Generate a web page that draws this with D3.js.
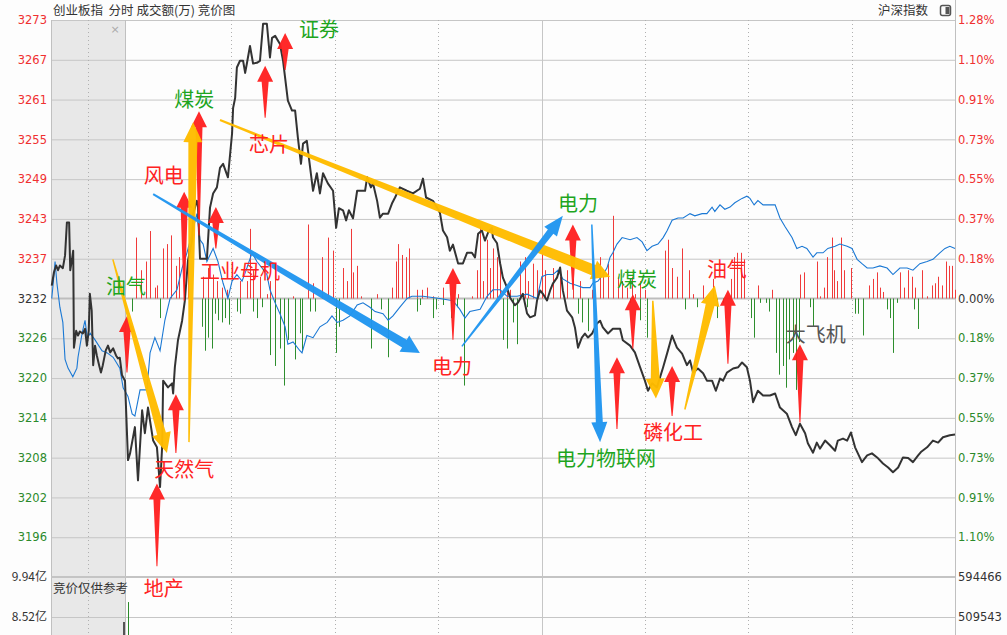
<!DOCTYPE html>
<html><head><meta charset="utf-8">
<script src="https://cdn.jsdelivr.net/npm/d3@7"></script>
<style>
html,body{margin:0;padding:0;background:#fdfdfd;overflow:hidden}
svg{display:block}
</style></head><body>
<svg id="c" width="1007" height="635"></svg>
<script>
// ---------------- data ----------------
const basePrice = 3231.7;
const pctStep = 0.18282;
const tickSteps = [7,6,5,4,3,2,1,0,-1,-2,-3,-4,-5,-6];
const leftTickLabels = ["3273","3267","3261","3255","3249","3243","3237","3232","3226","3220","3214","3208","3202","3196"];
const rightTickLabels = ["1.28%","1.10%","0.91%","0.73%","0.55%","0.37%","0.18%","0.00%","0.18%","0.37%","0.55%","0.73%","0.91%","1.10%"];
const volTickValues = [9.94, 8.52];
const volTickLeft = ["9.94亿","8.52亿"];
const volTickRight = ["594466","509543"];
const timeGrid = [30,60,90,150,180,210];

// auction (9:15-9:25, minutes 0..10) index price
const auctionPrice = [[0.1,3233.6],[0.4,3235.6],[0.7,3236.6],[0.95,3235.9],[1.2,3236.6],[1.6,3236.2],[1.9,3238.1],[2.15,3243.0],[2.45,3243.0],[2.6,3235.9],[2.85,3237.6],[3.0,3238.8],[3.1,3224.4],[3.4,3226.9],[3.65,3226.2],[3.9,3226.8],[4.3,3226.5],[4.6,3227.2],[4.85,3224.7],[5.1,3226.9],[5.25,3232.4],[5.5,3229.9],[5.7,3221.8],[5.95,3224.7],[6.2,3223.2],[6.5,3221.8],[6.75,3220.7],[7.0,3221.8],[7.4,3224.0],[7.7,3224.7],[8.0,3223.7],[8.4,3224.3],[8.8,3223.2],[9.05,3222.8],[9.3,3222.9],[9.6,3220.3],[10,3219.5]];
// auction reference index (% change)
const auctionRef = [[0.1,0.00],[0.3,0.07],[0.55,0.17],[0.8,0.07],[1.2,-0.04],[1.6,-0.11],[1.9,-0.28],[2.3,-0.32],[2.95,-0.36],[3.5,-0.32],[3.65,-0.27],[4.2,-0.16],[4.6,-0.10],[4.9,-0.18],[5.3,-0.16],[5.95,-0.19],[6.9,-0.24],[7.6,-0.25],[8.4,-0.27],[9.3,-0.32],[9.75,-0.41]];

// main session (minutes 0..240) index price
const minutePrice = [[0,3207.7],[0.6,3208.7],[2.0,3212.6],[2.9,3204.7],[4.1,3215.1],[4.9,3211.7],[5.8,3215.5],[7.3,3210.6],[8.4,3209.6],[9.3,3203.7],[9.9,3209.6],[10.2,3219.5],[11.6,3218.5],[12.8,3219.1],[13.1,3217.6],[13.6,3221.5],[14.5,3225.5],[15.7,3228.4],[16.5,3231.4],[17.4,3237.3],[18.6,3240.3],[18.9,3244.3],[20.0,3246.2],[20.3,3245.5],[20.9,3237.6],[22.9,3237.6],[23.8,3245.2],[24.7,3247.3],[25.8,3248.2],[26.7,3251.1],[27.6,3251.7],[29.0,3249.7],[30.2,3256.2],[30.5,3260.0],[31.1,3261.5],[31.6,3266.0],[32.5,3267.0],[33.4,3267.0],[34.0,3265.2],[34.5,3266.6],[35.4,3269.2],[36.3,3266.6],[37.4,3266.7],[38.3,3267.0],[39.2,3272.5],[40.3,3272.5],[41.2,3267.5],[41.8,3270.4],[42.7,3270.7],[44.1,3269.5],[45.0,3267.0],[46.4,3261.1],[47.6,3259.6],[48.5,3259.6],[49.3,3255.6],[50.2,3251.7],[50.8,3254.7],[51.9,3255.1],[52.5,3252.6],[53.7,3247.7],[54.8,3250.3],[55.7,3247.3],[56.6,3250.3],[58.0,3248.8],[59.5,3247.7],[60.4,3242.2],[61.2,3245.1],[62.4,3244.8],[63.3,3243.3],[64.1,3244.8],[65.3,3243.6],[66.5,3247.7],[68.8,3247.7],[69.4,3249.7],[70.5,3248.2],[71.1,3248.8],[72.3,3246.2],[73.1,3243.7],[74.0,3244.3],[75.5,3244.3],[76.6,3245.8],[77.5,3246.7],[78.9,3248.2],[80.9,3247.7],[82.7,3247.3],[84.7,3248.0],[85.6,3249.5],[86.5,3246.7],[88.5,3246.2],[90.5,3244.5],[91.4,3241.8],[92.6,3240.8],[93.4,3238.8],[94.3,3239.7],[95.8,3236.9],[97.2,3236.9],[98.4,3238.5],[99.8,3238.5],[100.7,3237.8],[101.6,3241.3],[102.7,3241.8],[103.6,3240.3],[104.5,3241.5],[105.6,3242.2],[105.9,3240.8],[107.1,3239.9],[108.0,3236.9],[108.8,3234.8],[110.0,3233.3],[110.9,3231.8],[112.3,3230.7],[113.2,3231.1],[114.6,3232.4],[115.8,3229.5],[116.7,3228.9],[118.1,3229.2],[118.7,3231.4],[119.6,3232.9],[120.4,3232.4],[121.6,3231.4],[122.5,3232.9],[123.3,3233.9],[124.5,3234.8],[125.4,3236.3],[126.2,3232.9],[127.4,3229.9],[128.9,3228.9],[129.7,3227.4],[130.6,3224.4],[131.7,3225.9],[132.6,3226.5],[133.5,3225.9],[134.7,3226.5],[136.1,3228.0],[137.0,3228.4],[137.8,3227.4],[139.3,3226.5],[140.7,3227.2],[142.8,3227.2],[143.6,3225.5],[145.7,3224.7],[147.1,3223.7],[148.6,3221.5],[150.0,3219.5],[150.9,3218.0],[152.1,3219.1],[153.5,3218.5],[155.3,3221.5],[156.7,3224.0],[157.9,3226.2],[159.3,3224.4],[160.8,3223.5],[162.2,3221.8],[163.1,3222.5],[164.0,3220.7],[165.4,3221.3],[166.9,3220.6],[168.0,3219.5],[169.5,3219.5],[170.6,3218.0],[171.8,3219.8],[172.7,3219.5],[173.8,3220.7],[175.6,3221.3],[177.1,3221.5],[178.2,3222.2],[179.6,3221.5],[180.5,3219.5],[181.4,3216.3],[182.8,3218.0],[184.3,3217.3],[186.3,3217.3],[187.8,3217.6],[189.2,3215.5],[191.2,3214.6],[192.7,3212.6],[193.8,3211.4],[195.0,3213.1],[196.5,3211.7],[197.3,3210.2],[198.8,3208.8],[199.9,3210.3],[200.8,3209.4],[202.3,3210.6],[203.7,3209.9],[205.2,3209.1],[206.0,3210.6],[207.5,3210.9],[208.7,3210.6],[209.8,3211.8],[211.0,3209.6],[213.0,3207.4],[214.5,3208.4],[215.9,3208.7],[217.4,3208.1],[219.1,3207.2],[220.6,3206.6],[222.0,3205.9],[223.5,3206.6],[224.9,3208.1],[226.4,3208.0],[227.8,3207.4],[229.3,3208.4],[230.1,3208.9],[231.9,3209.6],[233.6,3210.6],[235.1,3210.3],[236.5,3211.1],[238.5,3211.4],[240,3211.5]];

// 沪深指数 reference line (% change)
const refPct = [[0,-0.45],[1.2,-0.53],[2.0,-0.54],[3.5,-0.42],[5.5,-0.42],[6.4,-0.25],[7.8,-0.18],[9.3,-0.24],[10.7,-0.10],[12.2,0.00],[14.2,0.04],[15.7,0.14],[17.1,0.21],[18.6,0.30],[20.0,0.39],[20.9,0.27],[21.8,0.25],[22.9,0.17],[24.7,0.23],[26.1,0.17],[27.6,0.07],[29.0,0.00],[30.2,0.08],[31.6,0.11],[33.1,0.08],[34.5,0.14],[36.0,0.21],[37.4,0.17],[38.9,0.14],[40.3,0.11],[41.2,0.04],[42.7,-0.02],[44.1,-0.07],[45.6,-0.13],[46.4,-0.21],[47.9,-0.20],[49.9,-0.24],[50.5,-0.25],[51.9,-0.17],[53.7,-0.18],[55.7,-0.13],[57.8,-0.11],[59.2,-0.08],[60.7,-0.11],[62.4,-0.10],[64.4,-0.08],[66.5,-0.03],[68.2,-0.02],[70.2,-0.04],[71.7,-0.06],[74.0,-0.07],[75.5,-0.10],[76.9,-0.08],[78.9,-0.04],[81.0,0.00],[82.4,0.01],[85.6,0.01],[90.5,0.00],[94.3,-0.01],[96.3,-0.05],[97.8,-0.09],[99.2,-0.06],[102.2,-0.05],[104.2,0.01],[105.9,0.04],[108.0,0.04],[110.0,0.01],[112.9,0.01],[115.8,0.02],[118.7,0.00],[120.1,0.10],[121.6,0.11],[123.3,0.11],[124.8,0.13],[126.2,0.09],[128.3,0.07],[130.3,0.06],[132.0,0.05],[134.1,0.05],[134.9,0.07],[136.4,0.08],[137.8,0.11],[139.0,0.14],[139.9,0.19],[140.7,0.21],[141.9,0.25],[143.4,0.28],[145.7,0.27],[147.7,0.28],[149.2,0.26],[150.6,0.22],[152.1,0.24],[153.8,0.25],[155.3,0.28],[156.4,0.31],[157.9,0.36],[159.6,0.37],[161.1,0.37],[163.1,0.39],[164.5,0.38],[166.6,0.39],[168.0,0.39],[169.5,0.42],[170.3,0.40],[171.8,0.43],[173.2,0.41],[174.7,0.42],[176.1,0.44],[178.2,0.46],[179.6,0.47],[180.5,0.46],[181.7,0.43],[182.8,0.45],[184.3,0.43],[187.8,0.43],[189.2,0.37],[190.7,0.33],[192.7,0.28],[194.1,0.23],[195.6,0.24],[197.0,0.23],[198.8,0.19],[199.9,0.21],[201.7,0.21],[203.1,0.23],[205.2,0.24],[206.6,0.25],[208.7,0.24],[210.1,0.23],[211.6,0.18],[213.0,0.16],[214.5,0.14],[216.2,0.14],[218.2,0.15],[220.3,0.14],[222.0,0.11],[224.0,0.14],[226.1,0.14],[227.8,0.13],[229.8,0.16],[231.9,0.17],[233.6,0.18],[235.6,0.21],[237.1,0.23],[238.5,0.24],[240,0.23]];

// red / green strength bars (% units)
const strengthUp = [[2.3,0.28],[3.8,0.13],[5.2,0.17],[6.4,0.31],[7.8,0.05],[8.4,0.06],[10.2,0.23],[11.3,0.25],[12.5,0.29],[13.9,0.15],[14.8,0.19],[16.3,0.20],[17.4,0.23],[21.8,0.10],[23.2,0.14],[24.7,0.11],[25.8,0.08],[27.3,0.05],[28.7,0.04],[32.5,0.08],[34.5,0.08],[35.4,0.32],[36.3,0.13],[38.3,0.10],[40.3,0.02],[41.2,0.08],[42.7,0.14],[47.9,0.01],[52.2,0.34],[53.7,0.07],[56.3,0.19],[58.0,0.28],[59.5,0.22],[62.4,0.14],[63.6,0.08],[64.7,0.32],[65.3,0.12],[66.5,0.15],[67.6,0.01],[72.3,0.02],[76.6,0.05],[77.8,0.17],[78.4,0.25],[79.5,0.20],[80.7,0.19],[81.5,0.23],[83.9,0.04],[85.3,0.04],[86.8,0.05],[88.5,0.01],[91.4,0.05],[95.8,0.02],[99.8,0.01],[101.3,0.13],[102.2,0.33],[103.0,0.08],[104.2,0.27],[105.1,0.14],[105.9,0.23],[107.1,0.19],[108.0,0.16],[110.0,0.04],[110.9,0.04],[113.8,0.17],[115.2,0.19],[116.1,0.08],[117.5,0.16],[118.7,0.13],[120.1,0.21],[121.0,0.13],[123.3,0.14],[125.4,0.10],[127.4,0.13],[129.1,0.09],[131.2,0.08],[134.7,0.04],[137.0,0.19],[137.8,0.11],[139.3,0.16],[140.7,0.38],[142.2,0.10],[143.4,0.08],[144.8,0.05],[146.3,0.10],[147.1,0.02],[148.6,0.08],[150.0,0.04],[155.8,0.22],[156.7,0.27],[157.9,0.14],[159.3,0.10],[160.8,0.23],[162.8,0.13],[164.0,0.02],[166.9,0.06],[169.8,0.09],[175.0,0.09],[175.9,0.19],[176.7,0.21],[177.9,0.21],[178.8,0.18],[182.8,0.06],[186.9,0.04],[195.0,0.11],[196.2,0.12],[199.9,0.17],[200.8,0.01],[202.0,0.05],[202.8,0.19],[204.3,0.28],[204.9,0.13],[205.8,0.08],[206.9,0.28],[207.8,0.13],[209.8,0.14],[215.0,0.06],[216.2,0.09],[217.4,0.12],[218.2,0.05],[219.1,0.03],[224.0,0.12],[225.2,0.05],[226.4,0.13],[227.5,0.10],[228.4,0.05],[230.4,0.13],[231.9,0.01],[233.3,0.06],[234.2,0.07],[235.1,0.10],[236.2,0.06],[237.4,0.17],[238.2,0.15],[239.1,0.15],[240,0.04]];
const strengthDown = [[1.2,-0.06],[9.3,-0.09],[21.5,-0.13],[22.3,-0.24],[23.2,-0.18],[24.4,-0.23],[25.2,-0.07],[26.1,-0.10],[27.3,-0.11],[28.1,-0.09],[29.3,-0.12],[31.6,-0.06],[32.5,-0.07],[36.3,-0.06],[37.4,-0.09],[38.9,-0.04],[41.2,-0.26],[42.7,-0.31],[44.1,-0.23],[45.3,-0.40],[46.4,-0.19],[48.5,-0.28],[49.9,-0.16],[50.5,-0.24],[52.8,-0.06],[54.3,-0.06],[60.4,-0.25],[61.2,-0.13],[70.5,-0.23],[73.4,-0.05],[75.5,-0.27],[83.9,-0.06],[84.7,-0.03],[88.5,-0.09],[89.4,-0.05],[91.4,-0.03],[93.7,-0.09],[95.5,-0.04],[97.5,-0.40],[108.8,-0.19],[110.0,-0.23],[111.7,-0.11],[112.9,-0.21],[115.8,-0.04],[130.6,-0.07],[131.7,-0.11],[133.5,-0.15],[145.7,-0.02],[148.6,-0.10],[150.6,-0.18],[161.6,-0.05],[165.1,-0.04],[170.9,-0.09],[172.7,-0.02],[180.8,-0.09],[181.7,-0.18],[183.4,-0.02],[185.1,-0.02],[186.0,-0.06],[188.0,-0.25],[188.9,-0.35],[190.1,-0.31],[190.9,-0.41],[191.8,-0.28],[193.0,-0.25],[193.8,-0.42],[194.7,-0.20],[197.9,-0.04],[198.8,-0.13],[211.0,-0.07],[211.8,-0.07],[213.3,-0.17],[220.3,-0.05],[221.2,-0.09],[222.0,-0.25],[223.2,-0.02],[228.1,-0.05],[229.3,-0.14]];

// volume (亿)
const auctionVolume = [[10, 8.34]];
const minuteVolume = [[0, 9.05]];

// annotations: [t1,pct1,t2,pct2]
const redArrows = [[-0.3,-0.34,-0.3,-0.08],[8.4,-1.23,8.4,-0.85],[13.9,-0.71,13.9,-0.44],[16.3,-0.01,16.3,0.49],[20.6,0.29,20.6,0.86],[25.5,0.23,25.5,0.42],[39.8,0.83,39.8,1.07],[45.6,1.05,45.6,1.22],[94.3,-0.19,94.3,0.14],[129.1,0.04,129.1,0.34],[141.9,-0.60,141.9,-0.27],[146.5,-0.23,146.5,0.02],[157.9,-0.54,157.9,-0.31],[174.1,-0.30,174.1,0.04],[195.0,-0.57,195.0,-0.21]];
const yellowArrows = [[-4.4,0.18,11.3,-0.71],[17.7,-0.66,18.9,0.81],[26.7,0.82,139.9,0.10],[152.3,-0.01,153.2,-0.46],[161.6,-0.51,170.3,0.06]];
const blueArrows = [[7.3,0.48,84.7,-0.25],[96.9,-0.22,126.2,0.38],[134.6,0.34,137.0,-0.66]];
const labelText = ["证券","煤炭","芯片","风电","工业母机","油气","天然气","地产","电力","电力","煤炭","电力物联网","磷化工","油气","大飞机"];
const labelT = [55.4,19.2,40.9,10.4,32.5,-0.6,16.3,10.4,94.0,130.6,147.7,138.7,158.2,173.8,199.6];
const labelPct = [1.24,0.92,0.71,0.57,0.13,0.06,-0.78,-1.33,-0.31,0.44,0.09,-0.73,-0.61,0.14,-0.16];
const labelKind = ["g","g","r","r","r","g","r","r","r","g","g","g","r","r","k"];

// ---------------- scales ----------------
const W = 1007, H = 635;
const L = 51, R = 955, T = 20, MB = 577;
const xMain = d3.scaleLinear().domain([0,240]).range([128,R]);
const xAuc = d3.scaleLinear().domain([0,10]).range([L,125]);
const yPct = d3.scaleLinear().domain([-7*pctStep, 7*pctStep]).range([MB,T]);
const yPrice = d3.scaleLinear().domain([basePrice*(1-7*pctStep/100), basePrice*(1+7*pctStep/100)]).range([MB,T]);
const yVol = d3.scaleLinear().domain([8.52, 9.94]).range([617, MB]);

const svg = d3.select("#c");
const numFont = "'DejaVu Sans', sans-serif";
const cjk = "'Noto Sans CJK SC', 'Noto Sans', sans-serif";
const RED = "#f03030", GREEN = "#2b8a2b", DARK = "#333";

svg.append("rect").attr("width",W).attr("height",H).attr("fill","#fdfdfd");
// auction background
svg.append("rect").attr("x",L).attr("y",T).attr("width",125-L).attr("height",H-T).attr("fill","#e8e8e8");

// horizontal grid
const grid = svg.append("g");
grid.selectAll("line.h").data(tickSteps.filter(k=>k!==0)).join("line")
  .attr("x1",L).attr("x2",R).attr("y1",k=>yPct(k*pctStep)+0.5).attr("y2",k=>yPct(k*pctStep)+0.5)
  .attr("stroke","#c6c6c6").attr("stroke-width",1);
grid.append("line").attr("x1",L).attr("x2",R).attr("y1",yPct(0)).attr("y2",yPct(0)).attr("stroke","#bdbdbd").attr("stroke-width",2);
grid.append("line").attr("x1",L).attr("x2",R).attr("y1",yVol(volTickValues[1])+0.5).attr("y2",yVol(volTickValues[1])+0.5).attr("stroke","#c6c6c6");
// vertical dotted grid
grid.selectAll("line.v").data(timeGrid).join("line")
  .attr("x1",d=>Math.round(xMain(d))+0.5).attr("x2",d=>Math.round(xMain(d))+0.5).attr("y1",T).attr("y2",H)
  .attr("stroke","#b0b0b0").attr("stroke-dasharray","1,3");
grid.append("line").attr("x1",Math.round(xAuc(5))+0.5).attr("x2",Math.round(xAuc(5))+0.5).attr("y1",T).attr("y2",H)
  .attr("stroke","#b0b0b0").attr("stroke-dasharray","1,3");
grid.append("line").attr("x1",Math.round(xMain(120))+0.5).attr("x2",Math.round(xMain(120))+0.5).attr("y1",T).attr("y2",H).attr("stroke","#c6c6c6");
grid.append("line").attr("x1",125.5).attr("x2",125.5).attr("y1",T).attr("y2",H).attr("stroke","#c0c0c0");
grid.append("line").attr("x1",L+0.5).attr("x2",L+0.5).attr("y1",T).attr("y2",H).attr("stroke","#c0c0c0");
grid.append("line").attr("x1",R+0.5).attr("x2",R+0.5).attr("y1",0).attr("y2",H).attr("stroke","#c0c0c0");
grid.append("line").attr("x1",L).attr("x2",R).attr("y1",MB).attr("y2",MB).attr("stroke","#c4c4c4").attr("stroke-width",2);

// header
svg.append("text").attr("x",53).attr("y",15).attr("font-family",cjk).attr("font-size",12.5).attr("fill",DARK)
  .text("创业板指  分时 成交额(万) 竞价图").attr("xml:space","preserve").style("white-space","pre");
svg.append("text").attr("x",928).attr("y",15).attr("text-anchor","end").attr("font-family",cjk).attr("font-size",12.5).attr("fill",DARK).text("沪深指数");
svg.append("rect").attr("x",940.5).attr("y",5.5).attr("width",10).attr("height",10).attr("rx",2).attr("fill","none").attr("stroke","#555").attr("stroke-width",1.5);
svg.append("rect").attr("x",945.5).attr("y",7).attr("width",4).attr("height",7).attr("fill","#555");
svg.append("text").attr("x",115).attr("y",33).attr("text-anchor","middle").attr("font-family",numFont).attr("font-size",11).attr("fill","#aaa").text("×");
svg.append("text").attr("x",53).attr("y",593).attr("font-family",cjk).attr("font-size",12.5).attr("fill",DARK).text("竞价仅供参考");

// axes
const tickColor = k => k>0 ? RED : (k<0 ? GREEN : DARK);
const leftAxis = d3.axisLeft(yPct).tickValues(tickSteps.map(k=>k*pctStep)).tickFormat((d,i)=>leftTickLabels[i]).tickSize(0).tickPadding(0);
const ga = svg.append("g").attr("transform","translate(47,0)").call(leftAxis);
ga.select(".domain").remove();
ga.selectAll("text").attr("font-family",numFont).attr("font-size",11.5).attr("fill",(d,i)=>tickColor(tickSteps[i]));
const rightAxis = d3.axisRight(yPct).tickValues(tickSteps.map(k=>k*pctStep)).tickFormat((d,i)=>rightTickLabels[i]).tickSize(0).tickPadding(0);
const gr = svg.append("g").attr("transform","translate(958,0)").call(rightAxis);
gr.select(".domain").remove();
gr.selectAll("text").attr("font-family",numFont).attr("font-size",11.5).attr("fill",(d,i)=>tickColor(tickSteps[i]));
const volL = d3.axisLeft(yVol).tickValues(volTickValues).tickFormat((d,i)=>volTickLeft[i]).tickSize(0).tickPadding(0);
const gvl = svg.append("g").attr("transform","translate(47,0)").call(volL);
gvl.select(".domain").remove();
gvl.selectAll("text").attr("font-family",cjk).attr("font-size",12).attr("fill",DARK);
const volR = d3.axisRight(yVol).tickValues(volTickValues).tickFormat((d,i)=>volTickRight[i]).tickSize(0).tickPadding(0);
const gvr = svg.append("g").attr("transform","translate(958,0)").call(volR);
gvr.select(".domain").remove();
gvr.selectAll("text").attr("font-family",numFont).attr("font-size",11.5).attr("fill",DARK);

// volume bars
svg.selectAll("line.va").data(auctionVolume).join("line")
  .attr("x1",d=>xAuc(d[0])-1).attr("x2",d=>xAuc(d[0])-1).attr("y1",d=>yVol(d[1])).attr("y2",H)
  .attr("stroke","#555").attr("stroke-width",2);
svg.selectAll("line.vm").data(minuteVolume).join("line")
  .attr("x1",d=>Math.round(xMain(d[0]))+0.5).attr("x2",d=>Math.round(xMain(d[0]))+0.5).attr("y1",d=>yVol(d[1])).attr("y2",H)
  .attr("stroke",GREEN).attr("stroke-width",1);

// strength bars
const bars = svg.append("g");
bars.selectAll("line.up").data(strengthUp).join("line")
  .attr("x1",d=>Math.round(xMain(d[0]))+0.5).attr("x2",d=>Math.round(xMain(d[0]))+0.5)
  .attr("y1",yPct(0)).attr("y2",d=>yPct(d[1])).attr("stroke","#f03a3a").attr("stroke-width",1);
bars.selectAll("line.dn").data(strengthDown).join("line")
  .attr("x1",d=>Math.round(xMain(d[0]))+0.5).attr("x2",d=>Math.round(xMain(d[0]))+0.5)
  .attr("y1",yPct(0)).attr("y2",d=>yPct(d[1])).attr("stroke","#2e8e2e").attr("stroke-width",1);

// reference line
const refPts = auctionRef.map(d=>[xAuc(d[0]), yPct(d[1])]).concat(refPct.map(d=>[xMain(d[0]), yPct(d[1])]));
svg.append("path").attr("d",d3.line()(refPts)).attr("fill","none").attr("stroke","#1a78d4").attr("stroke-width",1.1);
// price line
const pricePts = auctionPrice.map(d=>[xAuc(d[0]), yPrice(d[1])]).concat(minutePrice.map(d=>[xMain(d[0]), yPrice(d[1])]));
svg.append("path").attr("d",d3.line()(pricePts)).attr("fill","none").attr("stroke","#333").attr("stroke-width",2).attr("stroke-linejoin","round");

// annotations
function fatArrow(g, a, color, tailW, shaftW, headW, headL, op){
  const x1=xMain(a[0]), y1=yPct(a[1]), x2=xMain(a[2]), y2=yPct(a[3]);
  const dx=x2-x1, dy=y2-y1, len=Math.hypot(dx,dy);
  const ux=dx/len, uy=dy/len, nx=-uy, ny=ux;
  const bx=x2-ux*headL, by=y2-uy*headL;
  const pts=[[x1+nx*tailW/2,y1+ny*tailW/2],[bx+nx*shaftW/2,by+ny*shaftW/2],[bx+nx*headW/2,by+ny*headW/2],[x2,y2],
    [bx-nx*headW/2,by-ny*headW/2],[bx-nx*shaftW/2,by-ny*shaftW/2],[x1-nx*tailW/2,y1-ny*tailW/2]];
  g.append("path").attr("d",d3.line().curve(d3.curveLinearClosed)(pts)).attr("fill",color).attr("opacity",op);
}
const ann = svg.append("g");
redArrows.forEach(a=>fatArrow(ann,a,"#ff1e1e",1,7,16,16,0.95));
yellowArrows.forEach((a,i)=>fatArrow(ann,a,"#ffbc00",i===2?2:1.5,i===2?11:9,i===2?20:19,i===2?18:20,0.97));
blueArrows.forEach((a,i)=>fatArrow(ann,a,"#2196f0",i===0?2:1.5,i===0?9:7,i===0?19:16,i===0?18:20,0.97));

const labelColor = {g:"#1ea51e", r:"#ff2222", k:"#555"};
ann.selectAll("text.lab").data(labelText).join("text")
  .attr("x",(d,i)=>xMain(labelT[i])).attr("y",(d,i)=>yPct(labelPct[i]))
  .attr("text-anchor","middle").attr("dominant-baseline","central")
  .attr("font-family",cjk).attr("font-size",20).attr("fill",(d,i)=>labelColor[labelKind[i]])
  .text(d=>d);
</script>
</body></html>
